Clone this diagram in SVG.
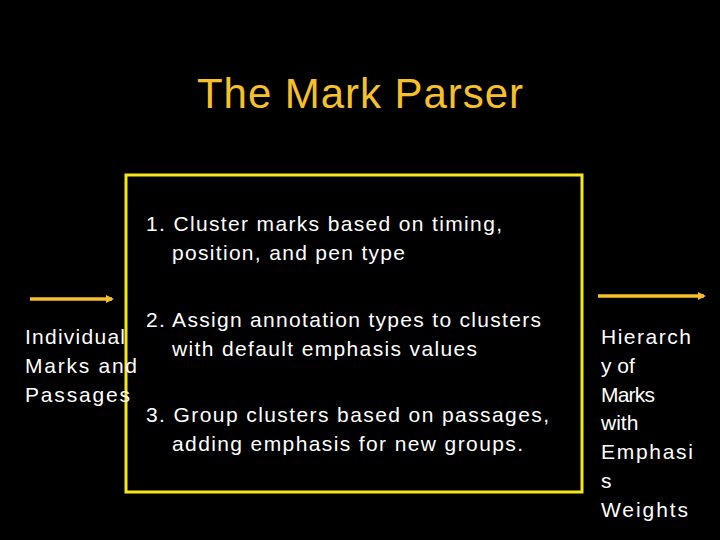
<svg xmlns="http://www.w3.org/2000/svg" width="720" height="540" viewBox="0 0 720 540">
<style>
text{font-family:"Liberation Sans",Arial,sans-serif;fill:#fff;font-size:21px}
.a{stroke:#f5c02a;stroke-width:3.5}
</style>
<defs><marker id="m" markerWidth="8" markerHeight="8" refX="6" refY="4" orient="auto" markerUnits="userSpaceOnUse"><path d="M0,0 L8,4 L0,8z" fill="#f5c02a"/></marker></defs>
<rect width="720" height="540" fill="#000"/>
<text x="360" y="108" text-anchor="middle" style="fill:#f5c02a;font-size:42px" textLength="326">The Mark Parser</text>
<g id="box"><rect x="126" y="175" width="456" height="317" fill="none" stroke="#f5e61e" stroke-width="3"/>
<text x="146" y="231" textLength="356">1. Cluster marks based on timing,</text>
<text x="172" y="260" textLength="233">position, and pen type</text>
<text x="146" y="327" textLength="395">2. Assign annotation types to clusters</text>
<text x="172" y="356" textLength="305">with default emphasis values</text>
<text x="146" y="422" textLength="403">3. Group clusters based on passages,</text>
<text x="172" y="451" textLength="351">adding emphasis for new groups.</text></g>
<g id="in"><text x="25" y="344" textLength="100">Individual</text><text x="25" y="373" textLength="112">Marks and</text><text x="25" y="402" textLength="105">Passages</text></g>
<g id="out"><text x="601" y="344" textLength="90">Hierarch</text><text x="601" y="373">y of</text><text x="601" y="402" textLength="54">Marks</text><text x="601" y="430">with</text><text x="601" y="459" textLength="92">Emphasi</text><text x="601" y="488">s</text><text x="601" y="517" textLength="87">Weights</text></g>
<g id="connectors"><line class="a" x1="30" y1="299" x2="112" y2="299" marker-end="url(#m)"/><line class="a" x1="598" y1="296" x2="704" y2="296" marker-end="url(#m)"/></g>
</svg>
